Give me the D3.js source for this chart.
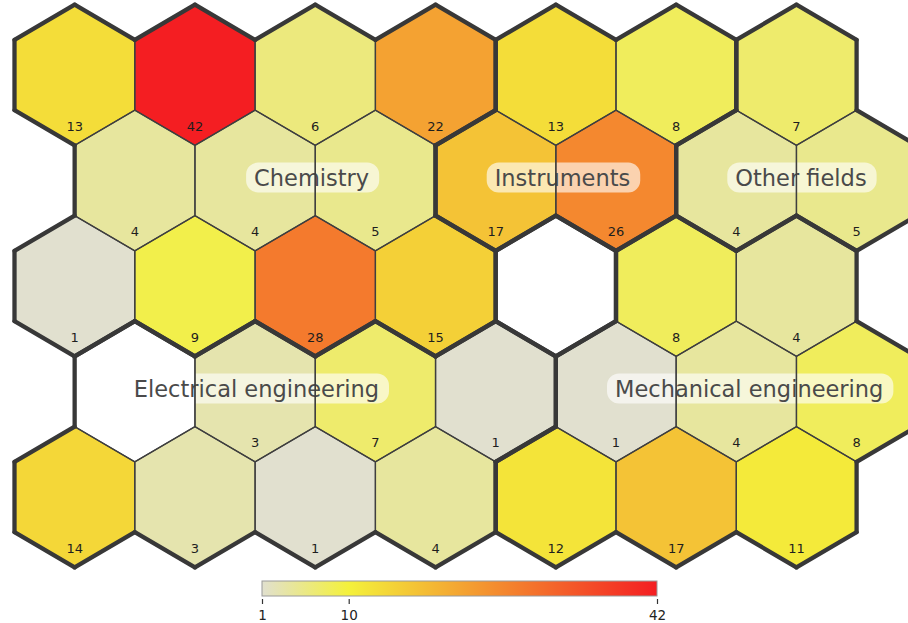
<!DOCTYPE html>
<html>
<head>
<meta charset="utf-8">
<script src="https://cdn.jsdelivr.net/npm/d3@7"></script>
<style>
  html, body { margin: 0; padding: 0; background: #ffffff; }
  svg { display: block; }
</style>
</head>
<body>
<svg id="chart" width="908" height="623"></svg>
<script>
// ---- data (rows of the hex grid, odd rows shifted right) ----
const row0Values = [13, 42, 6, 22, 13, 8, 7];
const row1Values = [4, 4, 5, 17, 26, 4, 5];
const row2Values = [1, 9, 28, 15, null, 8, 4];
const row3Values = [null, 3, 7, 1, 1, 4, 8];
const row4Values = [14, 3, 1, 4, 12, 17, 11];

const row0Regions = ["C", "C", "C", "C", "I", "I", "O"];
const row1Regions = ["C", "C", "C", "I", "I", "O", "O"];
const row2Regions = ["C", "C", "C", "C", "-", "M", "M"];
const row3Regions = ["E", "E", "E", "E", "M", "M", "M"];
const row4Regions = ["E", "E", "E", "E", "M", "M", "M"];

const regionCodes = ["C", "I", "O", "E", "M"];
const regionNames = ["Chemistry", "Instruments", "Other fields", "Electrical engineering", "Mechanical engineering"];
const regionLabelRow = [1, 1, 1, 3, 3];
const regionLabelCol = [1, 3, 5, 0, 4];

const legendTicks = [1, 10, 42];
const colorDomain = [1, 10, 42];
const colorRange = ["#e1e0cf", "#f4f13b", "#f41e22"];

// ---- build cells ----
const valueRows = [row0Values, row1Values, row2Values, row3Values, row4Values];
const regionRows = [row0Regions, row1Regions, row2Regions, row3Regions, row4Regions];
const cells = [];
valueRows.forEach((vals, r) => vals.forEach((v, c) => {
  cells.push({ row: r, col: c, value: v, region: regionRows[r][c] });
}));
const cellAt = (r, c) => (r >= 0 && r < valueRows.length && c >= 0 && c < valueRows[r].length) ? regionRows[r][c] : null;

// ---- geometry ----
const HW = 60.15;   // half width of a hexagon
const HR = 70.3;    // center to top vertex
const x = d3.scaleLinear().domain([0, 6]).range([74.65, 74.65 + 6 * 120.3]);
const y = d3.scaleLinear().domain([0, 4]).range([75, 75 + 4 * 105.5]);
const cx = d => x(d.col + (d.row % 2 ? 0.5 : 0));
const cy = d => y(d.row);

const verts = [[0, -HR], [HW, -HR / 2], [HW, HR / 2], [0, HR], [-HW, HR / 2], [-HW, -HR / 2]];
const hexPath = d => {
  const px = cx(d), py = cy(d);
  return "M" + verts.map(v => [px + v[0], py + v[1]].join(",")).join("L") + "Z";
};

// neighbours for edges v0-v1 (NE), v1-v2 (E), v2-v3 (SE), v3-v4 (SW), v4-v5 (W), v5-v0 (NW)
function neighbours(r, c) {
  const odd = r % 2 === 1;
  return [
    [r - 1, odd ? c + 1 : c],
    [r, c + 1],
    [r + 1, odd ? c + 1 : c],
    [r + 1, odd ? c : c - 1],
    [r, c - 1],
    [r - 1, odd ? c : c - 1]
  ];
}

const color = d3.scaleLinear().domain(colorDomain).range(colorRange).interpolate(d3.interpolateRgb);

const svg = d3.select("#chart");

// fills
svg.append("g").selectAll("path").data(cells).join("path")
  .attr("d", hexPath)
  .attr("fill", d => d.value == null ? "#ffffff" : color(d.value))
  .attr("stroke", "none");

// region labels (under the cell borders)
const labelG = svg.append("g");
regionNames.forEach((name, i) => {
  const d = { row: regionLabelRow[i], col: regionLabelCol[i] };
  const px = cx(d) - 1, py = cy(d);
  const g = labelG.append("g");
  const rect = g.append("rect");
  const t = g.append("text")
    .attr("x", px).attr("y", py + 5)
    .attr("font-family", "DejaVu Sans, sans-serif")
    .attr("font-size", 22.5)
    .attr("fill", "#4a4a4a")
    .text(name);
  const len = t.node().getComputedTextLength();
  rect.attr("x", px - 8).attr("y", py - 18).attr("width", len + 18).attr("height", 30)
    .attr("rx", 12).attr("ry", 12)
    .attr("fill", "#ffffff").attr("fill-opacity", 0.62);
});

// thin cell borders
svg.append("g").selectAll("path").data(cells).join("path")
  .attr("d", hexPath)
  .attr("fill", "none")
  .attr("stroke", "#3f3f3f")
  .attr("stroke-width", 1.3);

// thick region borders
const edges = [];
cells.forEach(d => {
  neighbours(d.row, d.col).forEach((n, k) => {
    const other = cellAt(n[0], n[1]);
    if (other === null || other !== d.region) {
      const a = verts[k], b = verts[(k + 1) % 6];
      edges.push({ cell: d, a, b });
    }
  });
});
svg.append("g").selectAll("line").data(edges).join("line")
  .attr("x1", e => cx(e.cell) + e.a[0]).attr("y1", e => cy(e.cell) + e.a[1])
  .attr("x2", e => cx(e.cell) + e.b[0]).attr("y2", e => cy(e.cell) + e.b[1])
  .attr("stroke", "#383838")
  .attr("stroke-width", 4.3)
  .attr("stroke-linecap", "round");

// cell numbers
svg.append("g").selectAll("text").data(cells.filter(d => d.value != null)).join("text")
  .attr("x", d => cx(d))
  .attr("y", d => cy(d) + 55.7)
  .attr("text-anchor", "middle")
  .attr("font-family", "DejaVu Sans, sans-serif")
  .attr("font-size", 13)
  .attr("fill", "#1e1e1e")
  .text(d => d.value);

// legend
const lx = d3.scaleLinear().domain([colorDomain[0], colorDomain[colorDomain.length - 1]]).range([262, 657]);
const defs = svg.append("defs");
const grad = defs.append("linearGradient").attr("id", "lg").attr("x1", "0%").attr("x2", "100%");
colorDomain.forEach(v => {
  grad.append("stop")
    .attr("offset", ((lx(v) - lx.range()[0]) / (lx.range()[1] - lx.range()[0]) * 100) + "%")
    .attr("stop-color", color(v));
});
svg.append("rect")
  .attr("x", lx.range()[0]).attr("y", 581)
  .attr("width", lx.range()[1] - lx.range()[0]).attr("height", 15)
  .attr("fill", "url(#lg)")
  .attr("stroke", "#9a9a9a").attr("stroke-width", 1);

const axis = d3.axisBottom(lx).tickValues(legendTicks).tickSize(5).tickPadding(6).tickFormat(d3.format("d"));
const ag = svg.append("g").attr("transform", "translate(0,599)").call(axis);
ag.select(".domain").remove();
ag.selectAll("line").attr("stroke", "#333").attr("stroke-width", 1.2);
ag.selectAll("text").attr("font-family", "DejaVu Sans, sans-serif").attr("font-size", 13.5).attr("fill", "#222");
</script>
</body>
</html>
